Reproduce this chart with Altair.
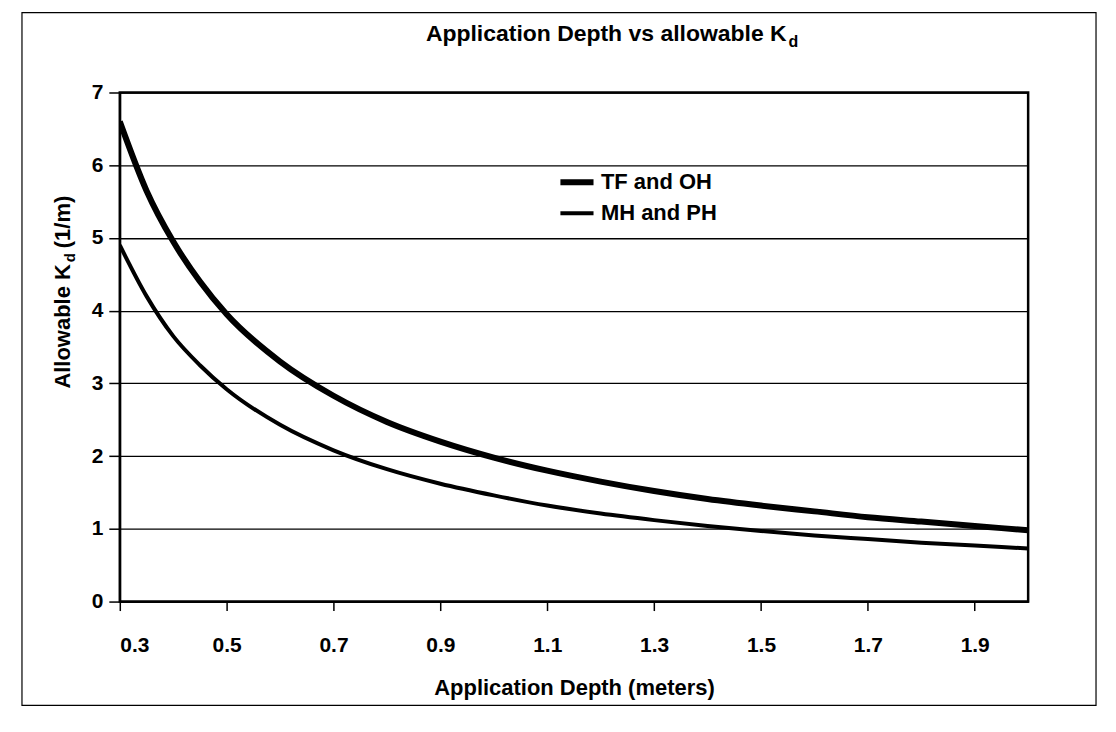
import altair as alt
import pandas as pd

# Application depth (m)
depth = [0.30, 0.35, 0.40, 0.45, 0.50, 0.60, 0.70, 0.80, 0.90, 1.00,
         1.10, 1.20, 1.30, 1.40, 1.50, 1.60, 1.70, 1.80, 1.90, 2.00]
# Allowable Kd (1/m)
tf_oh = [6.60, 5.65, 4.95, 4.40, 3.95, 3.30, 2.83, 2.47, 2.20, 1.98,
         1.80, 1.65, 1.52, 1.41, 1.32, 1.24, 1.16, 1.10, 1.04, 0.98]
mh_ph = [4.90, 4.20, 3.65, 3.25, 2.92, 2.43, 2.08, 1.82, 1.62, 1.46,
         1.32, 1.21, 1.12, 1.04, 0.97, 0.91, 0.86, 0.81, 0.77, 0.73]
series_names = ["TF and OH", "MH and PH"]
x_ticks = [0.3, 0.5, 0.7, 0.9, 1.1, 1.3, 1.5, 1.7, 1.9]
y_ticks = [0, 1, 2, 3, 4, 5, 6, 7]

rows = []
for d, a, b in zip(depth, tf_oh, mh_ph):
    rows.append({"depth": d, "kd": a, "series": series_names[0]})
    rows.append({"depth": d, "kd": b, "series": series_names[1]})
df = pd.DataFrame(rows)

FONT = "Liberation Sans"
W, H = 910, 510

legend_cfg = dict(title=None, orient="none", legendX=438, legendY=70,
                  symbolType="stroke", symbolSize=1100,
                  labelFontSize=22, labelFontWeight="bold",
                  labelFont=FONT, labelColor="black",
                  labelOffset=4, rowPadding=0)

lines = alt.Chart(df).mark_line(clip=True, color="black", interpolate="monotone").encode(
    x=alt.X("depth:Q",
            scale=alt.Scale(domain=[0.3, 2.0], nice=False, zero=False),
            axis=alt.Axis(values=x_ticks, format=".1f", grid=False,
                          title="Application Depth (meters)",
                          tickSize=9, labelPadding=24, titlePadding=22)),
    y=alt.Y("kd:Q",
            scale=alt.Scale(domain=[0, 7], nice=False),
            axis=alt.Axis(values=y_ticks, format="d", grid=True,
                          title=None, tickSize=11, labelPadding=6)),
    color=alt.Color("series:N",
                    scale=alt.Scale(domain=series_names, range=["black", "black"]),
                    legend=alt.Legend(**legend_cfg)),
    strokeWidth=alt.StrokeWidth("series:N",
                                scale=alt.Scale(domain=series_names, range=[6, 4]),
                                legend=alt.Legend(**legend_cfg)),
)

one = pd.DataFrame({"t": [""]})

title_main = alt.Chart(pd.DataFrame({"t": ["Application Depth vs allowable K"]})).mark_text(
    align="right", baseline="alphabetic", font=FONT, fontSize=23, fontWeight="bold", color="black"
).encode(x=alt.value(668), y=alt.value(-52), text="t:N")
title_sub = alt.Chart(pd.DataFrame({"t": ["d"]})).mark_text(
    align="left", baseline="alphabetic", font=FONT, fontSize=16, fontWeight="bold", color="black"
).encode(x=alt.value(670), y=alt.value(-46), text="t:N")

ytitle_main = alt.Chart(pd.DataFrame({"t": ["Allowable K"]})).mark_text(
    align="right", baseline="alphabetic", angle=270, font=FONT, fontSize=22,
    fontWeight="bold", color="black"
).encode(x=alt.value(-50), y=alt.value(172), text="t:N")
ytitle_sub = alt.Chart(pd.DataFrame({"t": ["d"]})).mark_text(
    align="left", baseline="alphabetic", angle=270, font=FONT, fontSize=15,
    fontWeight="bold", color="black"
).encode(x=alt.value(-45), y=alt.value(170), text="t:N")
ytitle_rest = alt.Chart(pd.DataFrame({"t": ["(1/m)"]})).mark_text(
    align="left", baseline="alphabetic", angle=270, font=FONT, fontSize=22,
    fontWeight="bold", color="black"
).encode(x=alt.value(-50), y=alt.value(156), text="t:N")

frame = alt.Chart(one).mark_rect(fill=None, stroke="black", strokeWidth=1.2, clip=False).encode(
    x=alt.value(-98), x2=alt.value(978), y=alt.value(-80), y2=alt.value(614)
)

chart = alt.layer(
    frame, lines, title_main, title_sub, ytitle_main, ytitle_sub, ytitle_rest
).properties(
    width=W, height=H,
    autosize=alt.AutoSizeParams(type="none"),
    padding={"left": 112, "top": 84, "right": 80, "bottom": 118},
    background="white",
).configure_view(
    stroke="black", strokeWidth=2.5
).configure_axis(
    domainColor="black", domainWidth=2, tickColor="black", tickWidth=1.5,
    gridColor="black", gridWidth=1.3, gridOpacity=1,
    labelFont=FONT, labelFontSize=21, labelFontWeight="bold", labelColor="black",
    titleFont=FONT, titleFontSize=22, titleFontWeight="bold", titleColor="black",
)

chart.save("out.html", embed_options={"renderer": "svg", "actions": False})
